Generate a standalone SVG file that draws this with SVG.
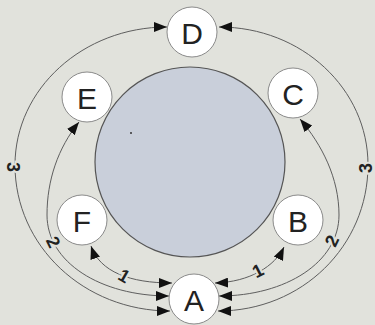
<svg xmlns="http://www.w3.org/2000/svg" width="375" height="325" viewBox="0 0 375 325">
<style>
.node circle{fill:#fff;stroke:#8a8a8a;stroke-width:1}
.node text{font-family:"Liberation Sans",Arial,sans-serif;font-size:30px;fill:#222;text-anchor:middle;dominant-baseline:central}
.conn path{fill:none;stroke:#5e5e5e;stroke-width:1;marker-start:url(#ah);marker-end:url(#ah)}
.lbl{font-family:"Liberation Sans",Arial,sans-serif;font-size:18px;font-weight:bold;fill:#222;text-anchor:middle;dominant-baseline:central;stroke:#e1e2dc;stroke-width:4;paint-order:stroke}
</style>
<defs>
<marker id="ah" viewBox="0 0 13 10" refX="13" refY="5" markerWidth="13" markerHeight="10" markerUnits="userSpaceOnUse" orient="auto-start-reverse">
<path d="M0,0 L13,5 L0,10 Z" fill="#111"/>
</marker>
</defs>
<rect width="375" height="325" fill="#e1e2dc"/>
<g id="center">
<circle cx="190" cy="162" r="95" fill="#c9cfda" stroke="#555" stroke-width="1.2"/>
<circle cx="131" cy="133" r="1" fill="#333"/>
</g>
<g class="conn" id="connectors">
<path d="M167,27 C83,27 15,89 15,165 C15,246 84,311 170,311"/>
<path d="M219,27 C302,27 368,89 368,165 C368,246 302,311 218,311"/>
<path d="M79,122 C58,148 47,180 47,215 C47,262 100,296 169,296"/>
<path d="M300,119 C322,145 339,178 339,215 C339,262 286,296 219,296"/>
<path d="M91,246 C100,272 130,283 172,283"/>
<path d="M284,247 C275,266 250,282 215,283"/>
</g>
<g id="labels">
<text class="lbl" transform="translate(13,167) rotate(90)">3</text>
<text class="lbl" transform="translate(366,168) rotate(-90)">3</text>
<text class="lbl" transform="translate(53,242) rotate(64)">2</text>
<text class="lbl" transform="translate(332,241) rotate(-64)">2</text>
<text class="lbl" transform="translate(124,276) rotate(30)">1</text>
<text class="lbl" transform="translate(258,271) rotate(-27)">1</text>
</g>
<g class="node" id="node-D"><circle cx="192" cy="32" r="25"/><text x="192" y="33">D</text></g>
<g class="node" id="node-E"><circle cx="87" cy="97" r="25"/><text x="87" y="98">E</text></g>
<g class="node" id="node-C"><circle cx="293" cy="93" r="25"/><text x="293" y="94">C</text></g>
<g class="node" id="node-F"><circle cx="82" cy="220" r="25"/><text x="82" y="221">F</text></g>
<g class="node" id="node-B"><circle cx="298" cy="220" r="25"/><text x="298" y="221">B</text></g>
<g class="node" id="node-A"><circle cx="194" cy="299" r="25"/><text x="194" y="300">A</text></g>
</svg>
